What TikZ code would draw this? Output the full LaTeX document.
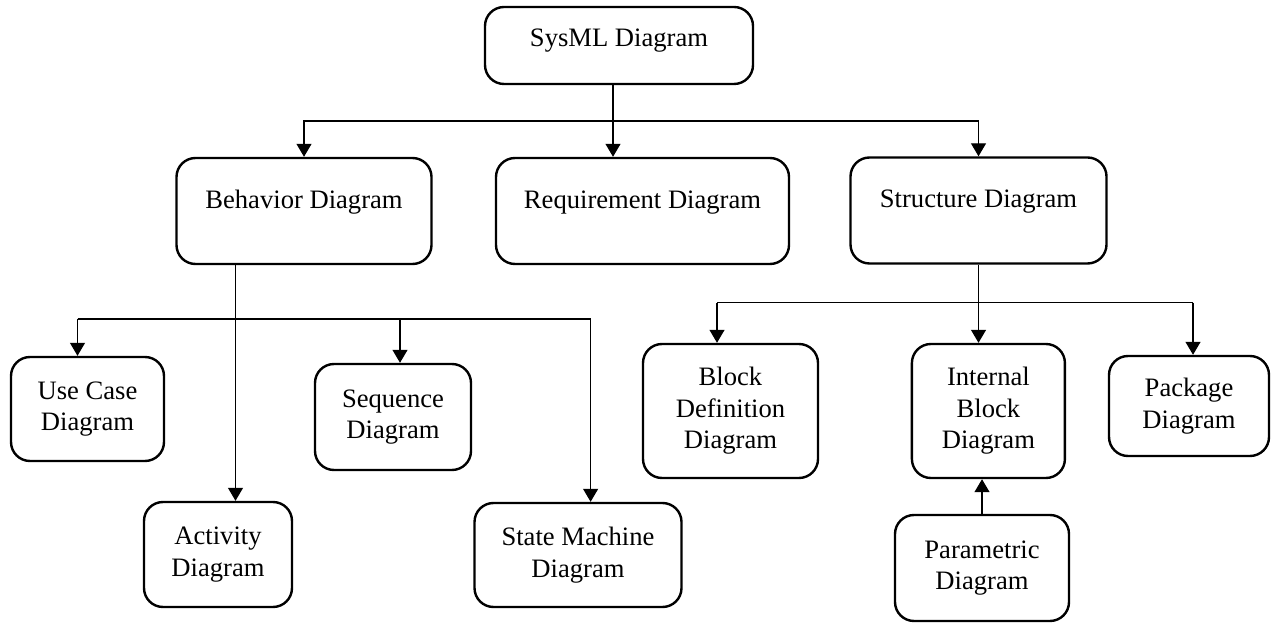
\documentclass[tikz,border=0pt]{standalone}
\usepackage{fontspec}
\setmainfont{Liberation Serif}
\usetikzlibrary{arrows.meta}

\begin{document}
\begin{tikzpicture}[x=0.5pt, y=-0.5pt,
    diagram/.style ={rectangle, draw, rounded corners=9.5pt, line width=1.2pt, align=center, inner sep=2pt, font=\fontsize{13.3}{15.8}\selectfont},
    headdiagram/.style ={diagram, text height=9.5pt, text depth=12pt},
    wire/.style ={line width=0.6pt},
    link/.style ={wire, -{Triangle[length=6.5pt, width=7.5pt]}}]
   \useasboundingbox (0,0) rectangle (1272,624);
   \node[headdiagram, text depth=8pt, minimum width=134pt, minimum height=38.5pt] (sysml) at (619,45.5) {SysML Diagram};
   \node[headdiagram, minimum width=127.5pt, minimum height=53pt] (behav) at (304,211) {Behavior Diagram};
   \node[headdiagram, minimum width=146.5pt, minimum height=53pt] (req) at (642.5,211) {Requirement Diagram};
   \node[headdiagram, minimum width=128pt, minimum height=53pt] (struct) at (978.5,210.5) {Structure Diagram};
   \node[diagram, minimum width=76.5pt, minimum height=52pt] (usecase) at (87.5,409) {Use Case\\Diagram};
   \node[diagram, minimum width=74pt, minimum height=52.5pt] (activity) at (218,554.5) {Activity\\Diagram};
   \node[diagram, minimum width=78pt, minimum height=53pt] (sequence) at (393,417) {Sequence\\Diagram};
   \node[diagram, minimum width=103.5pt, minimum height=52pt] (state) at (578,555) {State Machine\\Diagram};
   \node[diagram, minimum width=87.5pt, minimum height=67pt] (bdd) at (730.5,411) {Block\\Definition\\Diagram};
   \node[diagram, minimum width=76.5pt, minimum height=67pt] (ibd) at (988.4,411) {Internal\\Block\\Diagram};
   \node[diagram, minimum width=80pt, minimum height=50pt] (pkg) at (1189,406) {Package\\Diagram};
   \node[diagram, minimum width=87pt, minimum height=53pt] (param) at (982,568) {Parametric\\Diagram};
   % SysML -> three kinds
   \coordinate (top) at (613,121);
   \draw[wire] (sysml.south -| top) -- (top);
   \draw[link] (top) -| (behav);
   \draw[link] (top) -- (req.north -| top);
   \draw[link] (top) -| (struct);
   % behavior diagrams
   \coordinate (trunk) at (235.5,319);
   \coordinate (bl) at (77.5,319);
   \coordinate (bm) at (400,319);
   \coordinate (br) at (590.6,319);
   \draw[link] (behav.south -| trunk) -- (activity.north -| trunk);
   \draw[wire] (bl) -- (br);
   \draw[link] (bl) -- (usecase.north -| bl);
   \draw[link] (bm) -- (sequence.north -| bm);
   \draw[link] (br) -- (state.north -| br);
   % structure diagrams
   \coordinate (sl) at (717,302.7);
   \coordinate (sr) at (1193,302.7);
   \draw[link] (struct.south) -- (ibd.north -| struct.south);
   \draw[wire] (sl) -- (sr);
   \draw[link] (sl) -- (bdd.north -| sl);
   \draw[link] (sr) -- (pkg.north -| sr);
   \draw[link] (param.north) -- (ibd.south -| param.north);
\end{tikzpicture}
\end{document}
